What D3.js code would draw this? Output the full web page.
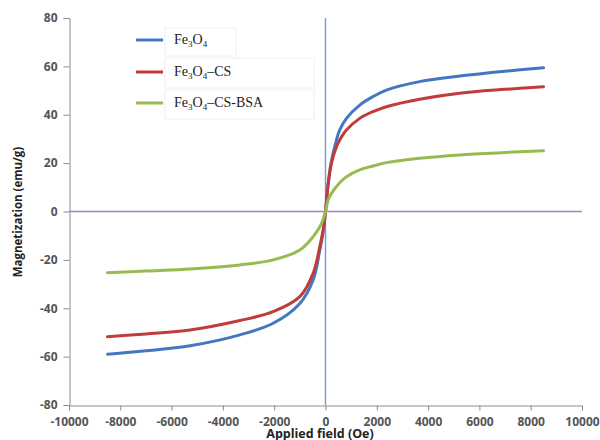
<!DOCTYPE html>
<html><head><meta charset="utf-8">
<script src="https://cdn.jsdelivr.net/npm/d3@7"></script>
<style>body{margin:0;background:#fff}</style>
</head><body><svg id="c" width="600" height="440"></svg>
<script>
const fields = [-8500,-7000,-5280,-3335,-2040,-1000,-482,-222,-100,0,103,233,428,556,817,1335,1852,2373,3670,5226,7000,8500];
const fe3o4 = [-59,-57.6,-55.5,-51,-46.2,-38,-28.3,-16,-9,0,11.8,21,29.6,33.7,38.5,44,47.5,50.2,53.7,56,58,59.4];
const fe3o4cs = [-51.8,-50.6,-49,-45.1,-41.4,-35.2,-25.6,-14.5,-8,0,11,20,26.8,29.6,33.7,38.5,41.3,43.3,46.4,48.9,50.5,51.6];
const fe3o4csbsa = [-25.3,-24.6,-23.8,-22.1,-20,-15.9,-10.4,-6.3,-3.5,0,4.8,7.5,10.3,11.9,14.4,17.2,18.8,20.2,22,23.4,24.4,25.1];
const seriesNames = ["Fe3O4","Fe3O4\u2013CS","Fe3O4\u2013CS-BSA"];
const seriesColors = ["#4477c2","#c23b3b","#98bb50"];
const xTicks = [-10000,-8000,-6000,-4000,-2000,0,2000,4000,6000,8000,10000];
const yTicks = [-80,-60,-40,-20,0,20,40,60,80];

const svg = d3.select("#c");
const x = d3.scaleLinear().domain([-10000,10000]).range([69,582]);
const y = d3.scaleLinear().domain([-80,80]).range([405,18]);
const tickFont = "'Open Sans', sans-serif";
const fmt = d => String(d);

// y axis
const ya = svg.append("g").attr("transform","translate(69.5,0)")
  .call(d3.axisLeft(y).tickValues(yTicks).tickSize(6).tickPadding(6).tickFormat(fmt));
ya.select(".domain").attr("stroke","#8c8c8c");
ya.selectAll(".tick line").attr("stroke","#8c8c8c");
ya.selectAll(".tick text").attr("fill","#555").attr("font-size",12).attr("font-weight","bold").attr("font-family",tickFont);

// x axis
const xa = svg.append("g").attr("transform","translate(0,405.5)")
  .call(d3.axisBottom(x).tickValues(xTicks).tickSize(5).tickPadding(7).tickFormat(fmt));
xa.select(".domain").attr("stroke","#8c8c8c");
xa.selectAll(".tick line").attr("stroke","#8c8c8c");
xa.selectAll(".tick text").attr("fill","#555").attr("font-size",12).attr("font-weight","bold").attr("font-family",tickFont);

// zero lines
svg.append("line").attr("x1",x(-10000)).attr("x2",x(10000)).attr("y1",y(0)).attr("y2",y(0))
  .attr("stroke","#9b85cf").attr("stroke-width",1.4);
svg.append("line").attr("x1",x(0)).attr("x2",x(0)).attr("y1",y(80)).attr("y2",y(-80))
  .attr("stroke","#6f9cd8").attr("stroke-width",1.4);

// curves
const allSeries = [fe3o4, fe3o4cs, fe3o4csbsa];
const line = d3.line().x((d,i)=>x(fields[i])).y(d=>y(d)).curve(d3.curveCatmullRom.alpha(0.5));
allSeries.forEach((s,k)=>{
  svg.append("path").datum(s).attr("d",line).attr("fill","none")
    .attr("stroke",seriesColors[k]).attr("stroke-width",3).attr("stroke-linecap","round");
});

// legend
const legY = [40,72,103];
const boxW = [71,149,149];
const boxTop = [28,58,90];
const boxH = [28,30,29];
seriesNames.forEach((n,k)=>{
  svg.append("rect").attr("x",165).attr("y",boxTop[k]).attr("width",boxW[k]).attr("height",boxH[k])
    .attr("fill","#fff").attr("stroke","#f0f0f0");
  svg.append("line").attr("x1",136).attr("x2",163).attr("y1",legY[k]).attr("y2",legY[k])
    .attr("stroke",seriesColors[k]).attr("stroke-width",3);
  const t = svg.append("text").attr("x",174).attr("y",legY[k]+4).attr("font-family","'Liberation Serif', serif")
    .attr("font-size",14).attr("fill","#222");
  t.append("tspan").text("Fe");
  t.append("tspan").text("3").attr("font-size",9).attr("dy",3);
  t.append("tspan").text("O").attr("dy",-3);
  t.append("tspan").text("4").attr("font-size",9).attr("dy",3);
  const rest = n.slice(5);
  if (rest) t.append("tspan").text(rest).attr("dy",-3);
});

// axis titles
svg.append("text").attr("x",320).attr("y",438).attr("text-anchor","middle")
  .attr("font-family",tickFont).attr("font-weight","bold").attr("font-size",12.5).attr("fill","#222")
  .text("Applied field (Oe)");
svg.append("text").attr("transform","translate(22,212) rotate(-90)").attr("text-anchor","middle")
  .attr("font-family",tickFont).attr("font-weight","bold").attr("font-size",11.5).attr("fill","#222")
  .text("Magnetization (emu/g)");
</script></body></html>
